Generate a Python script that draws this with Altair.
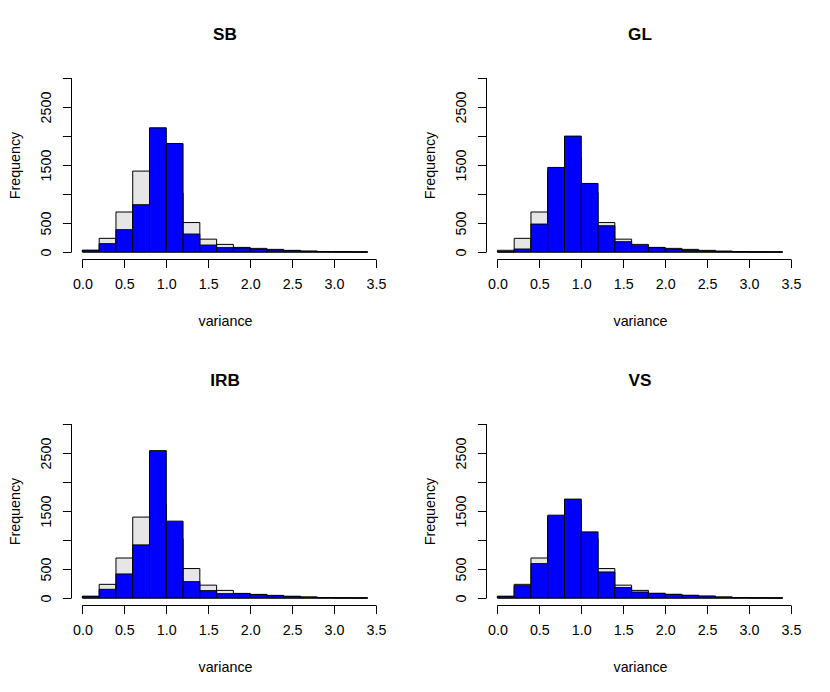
import altair as alt
import pandas as pd

# ---- data ----
BIN_START = [0.0, 0.2, 0.4, 0.6, 0.8, 1.0, 1.2, 1.4, 1.6, 1.8, 2.0, 2.2, 2.4, 2.6, 2.8, 3.0, 3.2]
BIN_END = [0.2, 0.4, 0.6, 0.8, 1.0, 1.2, 1.4, 1.6, 1.8, 2.0, 2.2, 2.4, 2.6, 2.8, 3.0, 3.2, 3.4]

# grey background histogram (same in every panel)
REFERENCE = [30, 236, 690, 1395, 1620, 1020, 508, 222, 132, 80, 63, 46, 29, 17, 8, 5, 3]

SB = [30, 144, 385, 815, 2141, 1871, 310, 120, 75, 69, 46, 34, 23, 12, 6, 3, 0]
GL = [5, 52, 482, 1458, 1998, 1182, 453, 178, 109, 75, 46, 29, 17, 6, 3, 0, 0]
IRB = [29, 150, 415, 916, 2540, 1325, 282, 127, 75, 75, 58, 40, 29, 17, 6, 3, 0]
VS = [29, 213, 593, 1428, 1705, 1140, 449, 179, 104, 81, 63, 46, 35, 17, 6, 3, 0]

PANEL_NAMES = ["SB", "GL", "IRB", "VS"]
PANEL_COUNTS = [SB, GL, IRB, VS]

X_TICKS = [0.0, 0.5, 1.0, 1.5, 2.0, 2.5, 3.0, 3.5]
Y_TICKS = [0, 500, 1000, 1500, 2000, 2500, 3000]
Y_LABELED = [0, 500, 1500, 2500]
X_DOMAIN = [-0.136, 3.536]
Y_DOMAIN = [-120, 3120]

FONT = "Liberation Sans"
W, H = 308, 188

xs = alt.Scale(domain=X_DOMAIN, nice=False, zero=False)
ys = alt.Scale(domain=Y_DOMAIN, nice=False, zero=False)

xaxis = alt.Axis(
    values=X_TICKS, format=".1f", domain=False, grid=False,
    ticks=True, tickSize=8.6, tickColor="black", tickWidth=1,
    labelFont=FONT, labelFontSize=14.3, labelColor="black",
    labelBaseline="alphabetic", labelPadding=21,
    labelFlush=False, labelOverlap=False,
    title="variance", titleFont=FONT, titleFontSize=14.3,
    titleFontWeight="normal", titleColor="black",
    titleX=W / 2, titleY=66, titleBaseline="alphabetic", titleAlign="center",
)

label_list = ",".join(str(v) for v in Y_LABELED)
yaxis = alt.Axis(
    values=Y_TICKS, domain=False, grid=False,
    labelExpr=f"indexof([{label_list}], datum.value) >= 0 ? datum.label : ''",
    format="d",
    ticks=True, tickSize=8.6, tickColor="black", tickWidth=1,
    labelFont=FONT, labelFontSize=14.3, labelColor="black",
    labelAngle=270, labelAlign="center", labelBaseline="alphabetic",
    labelPadding=11.9, labelOverlap=False, labelFlush=False,
    title="Frequency", titleFont=FONT, titleFontSize=14.3,
    titleFontWeight="normal", titleColor="black",
    titleAngle=270, titleX=-51.2, titleY=H / 2,
    titleBaseline="alphabetic", titleAlign="center",
)


def panel(name, counts):
    df = pd.DataFrame({"start": BIN_START, "end": BIN_END,
                       "ref": REFERENCE, "count": counts})
    base = alt.Chart(df)
    grey = base.mark_rect(fill="#e6e6e6", stroke="black", strokeWidth=1).encode(
        x=alt.X("start:Q", scale=xs, axis=xaxis),
        x2="end:Q",
        y=alt.Y("ref:Q", scale=ys, axis=yaxis),
        y2=alt.datum(0),
    )
    blue = base.mark_rect(fill="#0000ff", stroke="black", strokeWidth=1).encode(
        x=alt.X("start:Q", scale=xs, axis=xaxis),
        x2="end:Q",
        y=alt.Y("count:Q", scale=ys, axis=yaxis),
        y2=alt.datum(0),
    )
    xline_df = pd.DataFrame({"x0": [X_TICKS[0]], "x1": [X_TICKS[-1]], "yb": [Y_DOMAIN[0]]})
    yline_df = pd.DataFrame({"y0": [Y_TICKS[0]], "y1": [Y_TICKS[-1]], "xl": [X_DOMAIN[0]]})
    xline = alt.Chart(xline_df).mark_rule(color="black", strokeWidth=1, yOffset=0.5).encode(
        x=alt.X("x0:Q", scale=xs, axis=xaxis), x2="x1:Q",
        y=alt.Y("yb:Q", scale=ys, axis=yaxis),
    )
    yline = alt.Chart(yline_df).mark_rule(color="black", strokeWidth=1, xOffset=0.5).encode(
        x=alt.X("xl:Q", scale=xs, axis=xaxis),
        y=alt.Y("y0:Q", scale=ys, axis=yaxis), y2="y1:Q",
    )
    return alt.layer(grey, blue, xline, yline).properties(
        width=W, height=H,
        title=alt.TitleParams(text=name, font=FONT, fontSize=17.2, fontWeight="bold",
                              color="black", anchor="middle", frame="group",
                              baseline="alphabetic", offset=14.2),
    )


panels = [panel(n, c) for n, c in zip(PANEL_NAMES, PANEL_COUNTS)]
chart = alt.concat(
    *panels, columns=2, spacing={"row": 158, "column": 107}, bounds="flush"
).properties(
    padding={"left": 0, "top": 17, "right": 5, "bottom": 5},
    background="white",
).configure_view(stroke=None)

chart.save("out.html", embed_options={"renderer": "svg", "actions": False})
